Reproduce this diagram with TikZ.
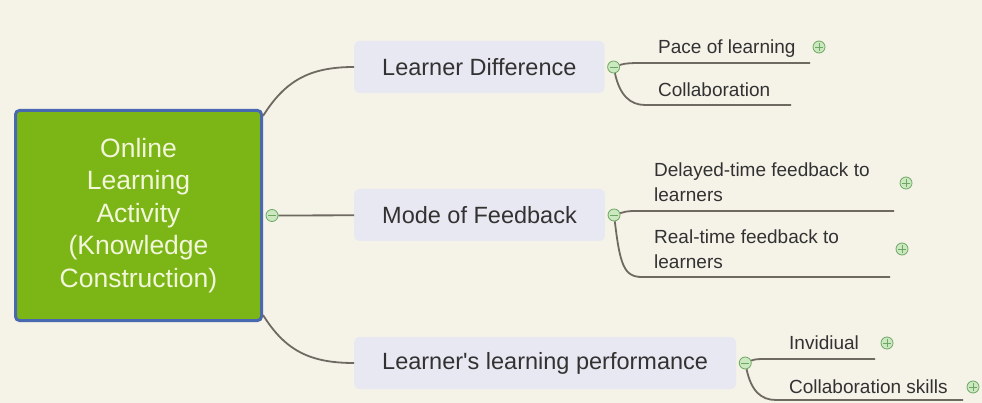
\documentclass[tikz,border=0pt]{standalone}
\usepackage{fontspec}
\setmainfont{Liberation Sans}
\definecolor{paper}{RGB}{245,242,232}
\definecolor{rootgreen}{RGB}{124,182,22}
\definecolor{rootblue}{RGB}{72,104,176}
\definecolor{roottext}{RGB}{242,246,218}
\definecolor{topicfill}{RGB}{232,232,242}
\definecolor{ink}{RGB}{50,50,50}
\definecolor{linkgray}{RGB}{110,106,98}
\definecolor{knobfill}{RGB}{204,232,192}
\definecolor{knobline}{RGB}{108,168,98}
\tikzset{
  root/.style={draw=rootblue, line width=3pt, rounded corners=4pt, fill=rootgreen, text=roottext,
    minimum width=246pt, minimum height=210pt, align=center, font=\fontsize{26.5}{32.5}\selectfont},
  topic/.style={fill=topicfill, rounded corners=5pt, anchor=west, inner xsep=28pt, minimum height=52pt,
    text=ink, font=\fontsize{23.5}{28}\selectfont},
  leaf/.style={anchor=south west, inner sep=0pt, text depth=0pt, align=left, text=ink,
    font=\fontsize{19}{25}\selectfont},
  link/.style={draw=linkgray, line width=1.8pt},
  knob/.style={circle, draw=knobline, fill=knobfill, minimum size=12pt, inner sep=0pt, line width=0.8pt},
  fold/.style={knob, path picture={\draw[knobline, line width=0.8pt]
    ([xshift=-4pt]path picture bounding box.center) -- ([xshift=4pt]path picture bounding box.center);}},
  unfold/.style={knob, path picture={\draw[knobline, line width=0.8pt]
    ([xshift=-4pt]path picture bounding box.center) -- ([xshift=4pt]path picture bounding box.center)
    ([yshift=-4pt]path picture bounding box.center) -- ([yshift=4pt]path picture bounding box.center);}}
}
\begin{document}
\begin{tikzpicture}[x=1pt, y=-1pt]
\fill[paper] (0,0) rectangle (982,403);
\node[root] (r) at (138.5,215.5) {Online\\Learning\\Activity\\(Knowledge\\Construction)};
\node[topic] (t1) at (354,67) {Learner Difference};
\node[topic] (t2) at (354,215) {Mode of Feedback};
\node[topic] (t3) at (354,363) {Learner\textquotesingle s learning performance};
\node[fold] (c0) at ([xshift=9pt]r.east) {};
\node[fold] (c1) at ([xshift=9pt]t1.east) {};
\node[fold] (c2) at ([xshift=9pt]t2.east) {};
\node[fold] (c3) at ([xshift=9pt]t3.east) {};
\draw[link] ([yshift=-7pt]r.north east) .. controls +(22,-35) and +(-45,0) .. (t1.west);
\draw[link] (c0) -- (t2);
\draw[link] ([yshift=7pt]r.south east) .. controls +(22,35) and +(-45,0) .. (t3.west);
\node[leaf] (k1) at (658,54) {Pace of learning};
\node[leaf] (k2) at (658,97) {Collaboration};
\node[leaf] (k3) at (654,202) {Delayed-time feedback to\\learners};
\node[leaf] (k4) at (654,269) {Real-time feedback to\\learners};
\node[leaf] (k5) at (789,350) {Invidiual};
\node[leaf] (k6) at (789,394) {Collaboration skills};
\coordinate (p1) at (645,63);  \coordinate (q1) at (810,63);
\coordinate (p2) at (645,105); \coordinate (q2) at (791,105);
\coordinate (p3) at (636,211); \coordinate (q3) at (894,211);
\coordinate (p4) at (642,277); \coordinate (q4) at (890,277);
\coordinate (p5) at (768,359); \coordinate (q5) at (875,359);
\coordinate (p6) at (776,400); \coordinate (q6) at (963,400);
\draw[link] (c1) .. controls +(12,-4) and +(-12,0) .. (p1) -- (q1);
\draw[link] (c1) .. controls +(6,28) and +(-15,0) .. (p2) -- (q2);
\draw[link] (c2) .. controls +(10,-3) and +(-10,0) .. (p3) -- (q3);
\draw[link] (c2) .. controls +(6,50) and +(-18,0) .. (p4) -- (q4);
\draw[link] (c3) .. controls +(10,-4) and +(-10,0) .. (p5) -- (q5);
\draw[link] (c3) .. controls +(6,28) and +(-15,0) .. (p6) -- (q6);
\node[unfold] (e1) at (819,47) {};
\node[unfold] (e3) at (906,183) {};
\node[unfold] (e4) at (902,249) {};
\node[unfold] (e5) at (887,343) {};
\node[unfold] (e6) at (973,387) {};
\end{tikzpicture}
\end{document}
